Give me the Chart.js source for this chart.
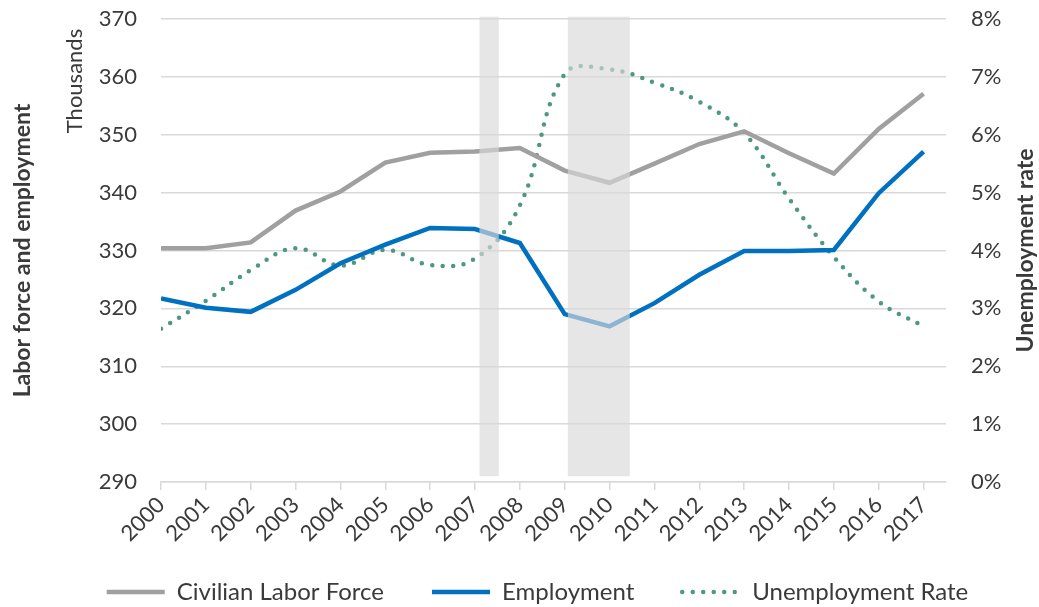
<!DOCTYPE html>
<html>
<head>
<meta charset="utf-8">
<script src="https://cdn.jsdelivr.net/npm/chart.js@4.4.1/dist/chart.umd.min.js"></script>
<style>
  html, body { margin: 0; padding: 0; background: #fff; overflow: hidden; }
  #chart { display: block; position: absolute; left: 0; top: 0; }
</style>
</head>
<body>
<canvas id="chart" width="1039" height="607"></canvas>
<script>
// data
const years = [2000, 2001, 2002, 2003, 2004, 2005, 2006, 2007, 2008, 2009,
               2010, 2011, 2012, 2013, 2014, 2015, 2016, 2017];
const laborForce = [330.4, 330.4, 331.4, 336.9, 340.2, 345.2, 346.9, 347.1, 347.7, 343.8,
                    341.7, 345.0, 348.4, 350.6, 346.8, 343.3, 351.0, 357.1];   // thousands
const employment = [321.7, 320.1, 319.4, 323.2, 327.8, 331.0, 333.9, 333.7, 331.3, 319.0,
                    316.9, 320.9, 325.8, 329.9, 329.9, 330.1, 339.9, 347.1];   // thousands
const unemploymentRate = [2.65, 3.13, 3.66, 4.04, 3.74, 4.01, 3.75, 3.86, 4.78, 7.05,
                          7.13, 6.90, 6.57, 6.03, 4.90, 3.89, 3.12, 2.69];      // percent
// recession periods (fractional years)
const recessionStart = [2007.1, 2009.07];
const recessionEnd = [2007.53, 2010.45];

const FONT = 'Lato, "Open Sans", sans-serif';
const TEXT = '#3a3a3a';
const GRID = '#d9d9d9';
const NONE = 'rgba(0,0,0,0)';
const LEGEND_PAD = 48;
const LEGEND_FONT = 24;

const toXY = vals => vals.map((v, i) => ({ x: years[i], y: v }));

// shaded recession bands go on top of the lines, plus the extra axis texts
const extras = {
  id: 'extras',
  afterLayout(chart) {
    // legend row sits near the bottom edge, a bit right of centre, like the original
    const lg = chart.legend;
    if (lg) {
      lg.top = 592 - LEGEND_PAD - LEGEND_FONT / 2;
      lg.bottom = chart.height;
      lg.height = lg.bottom - lg.top;
      lg.left += 18;
      lg.right += 18;
    }
  },
  afterDatasetsDraw(chart) {
    const { ctx, scales: { x, y } } = chart;
    ctx.save();
    ctx.fillStyle = 'rgba(217,217,217,0.65)';
    const top = y.getPixelForValue(370.4);
    const bot = y.getPixelForValue(291);
    recessionStart.forEach((s, i) => {
      const x0 = x.getPixelForValue(s);
      const x1 = x.getPixelForValue(recessionEnd[i]);
      ctx.fillRect(x0, top, x1 - x0, bot - top);
    });
    ctx.restore();
  },
  afterDraw(chart) {
    const { ctx, chartArea } = chart;
    ctx.save();
    ctx.fillStyle = TEXT;
    ctx.textAlign = 'center';
    ctx.textBaseline = 'middle';
    // "Thousands" unit label
    ctx.font = '22px ' + FONT;
    ctx.translate(75, chartArea.top + 62);
    ctx.rotate(-Math.PI / 2);
    ctx.fillText('Thousands', 0, 0);
    ctx.restore();
    // right axis title, reads bottom to top
    ctx.save();
    ctx.fillStyle = TEXT;
    ctx.textAlign = 'center';
    ctx.textBaseline = 'middle';
    ctx.font = 'bold 23px ' + FONT;
    ctx.translate(1026, (chartArea.top + chartArea.bottom) / 2);
    ctx.rotate(-Math.PI / 2);
    ctx.fillText('Unemployment rate', 0, 0);
    ctx.restore();
  }
};

new Chart(document.getElementById('chart'), {
  type: 'line',
  data: {
    datasets: [
      {
        label: 'Civilian Labor Force',
        data: toXY(laborForce),
        yAxisID: 'y',
        borderColor: '#a0a0a0',
        backgroundColor: '#a0a0a0',
        borderWidth: 4.5,
        pointRadius: 0,
        tension: 0
      },
      {
        label: 'Employment',
        data: toXY(employment),
        yAxisID: 'y',
        borderColor: '#0070c0',
        backgroundColor: '#0070c0',
        borderWidth: 4.5,
        pointRadius: 0,
        tension: 0
      },
      {
        label: 'Unemployment Rate',
        data: toXY(unemploymentRate),
        yAxisID: 'y1',
        borderColor: '#4f9785',
        backgroundColor: '#4f9785',
        borderWidth: 4.5,
        borderDash: [0, 10.5],
        borderCapStyle: 'round',
        pointRadius: 0,
        tension: 0.4
      }
    ]
  },
  options: {
    responsive: false,
    animation: false,
    layout: { padding: { top: 19, right: 0, bottom: 0, left: 0 } },
    scales: {
      x: {
        type: 'linear',
        min: 2000,
        max: 2017.5,
        // plot bottom at ~482px whatever height the legend box takes
        afterFit: s => { s.height = s.chart.height - 482 - (s.chart.legend ? s.chart.legend.height : 0); },
        ticks: {
          stepSize: 1,
          includeBounds: false,
          autoSkip: false,
          maxRotation: 45,
          minRotation: 45,
          padding: 2,
          color: TEXT,
          font: { family: FONT, size: 22 },
          callback: v => String(v)
        },
        grid: { drawOnChartArea: false, drawTicks: true, tickLength: 8, color: GRID, lineWidth: 1.5 },
        border: { color: GRID, width: 1.5 }
      },
      y: {
        position: 'left',
        min: 290,
        max: 370,
        afterFit: s => { s.width = 161; },
        ticks: { stepSize: 10, padding: 0, color: TEXT, font: { family: FONT, size: 22 } },
        // invisible tick marks keep the labels away from the plot
        grid: { color: GRID, lineWidth: 1.5, drawTicks: true, tickLength: 24, tickColor: NONE },
        border: { display: false },
        title: {
          display: true,
          text: 'Labor force and employment',
          color: TEXT,
          font: { family: FONT, size: 23, weight: 'bold' },
          padding: { top: 9, bottom: 0 }
        }
      },
      y1: {
        position: 'right',
        min: 0,
        max: 8,
        afterFit: s => { s.width = 93; },
        ticks: { stepSize: 1, padding: 0, color: TEXT, font: { family: FONT, size: 22 },
                 callback: v => v + '%' },
        grid: { drawOnChartArea: false, drawTicks: true, tickLength: 25, tickColor: NONE },
        border: { display: false }
      }
    },
    plugins: {
      legend: {
        position: 'bottom',
        maxHeight: 56,
        labels: {
          usePointStyle: true,
          pointStyleWidth: 58,
          padding: LEGEND_PAD,
          color: TEXT,
          font: { family: FONT, size: LEGEND_FONT },
          generateLabels: chart => chart.data.datasets.map((ds, i) => ({
            text: ds.label,
            datasetIndex: i,
            pointStyle: 'line',
            strokeStyle: ds.borderColor,
            fillStyle: ds.borderColor,
            lineWidth: 4.5,
            lineDash: ds.borderDash || [],
            lineCap: ds.borderDash ? 'round' : 'butt',
            fontColor: TEXT,
            hidden: false
          }))
        }
      },
      tooltip: { enabled: false }
    }
  },
  plugins: [extras]
});
</script>
</body>
</html>
